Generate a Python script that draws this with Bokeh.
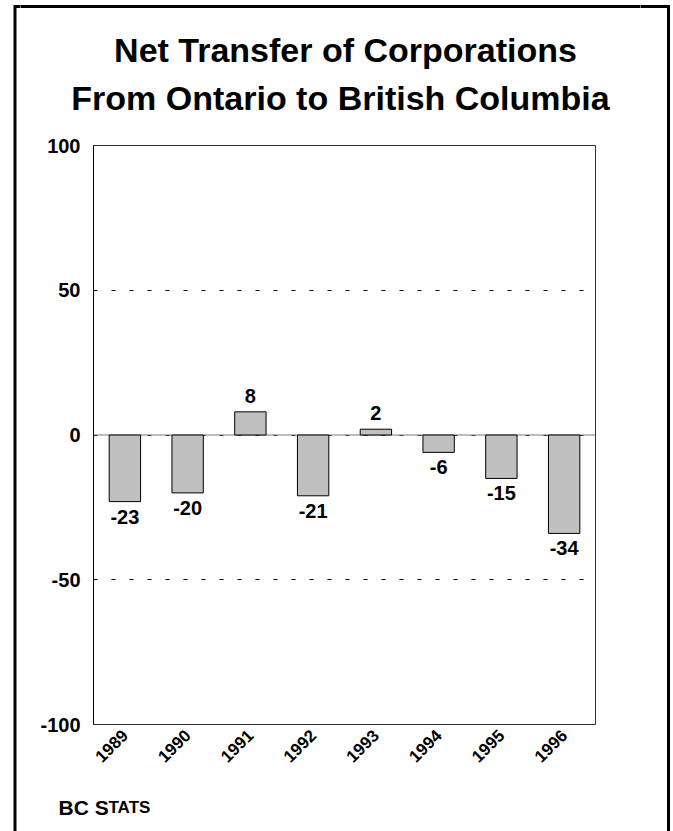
from math import pi

from bokeh.core.properties import value
from bokeh.embed import file_html
from bokeh.layouts import column, row
from bokeh.models import ColumnDataSource, FixedTicker, LabelSet, Range1d, Span
from bokeh.plotting import figure
from bokeh.resources import INLINE

# Net transfer of corporations, Ontario -> British Columbia
years = ["1989", "1990", "1991", "1992", "1993", "1994", "1995", "1996"]
net_transfer = [-23, -20, 8, -21, 2, -6, -15, -34]
y_ticks = [-100, -50, 0, 50, 100]
title_lines = ["Net Transfer of Corporations", "From Ontario to British Columbia"]
credit_parts = ["BC S", "TATS"]

FONT = "Liberation Sans"
W, H = 673, 831

# page pieces (canvas pixels)
TOP_H = 120          # title band
BOT_Y = 790          # start of credit band
LEFT_W = 20          # left border strip
RIGHT_X = 640        # start of right border strip
FL, FR, FT, FB = 93, 595, 145, 724   # plot frame
BX0, BX1, BY0 = 14.5, 668, 6        # outer box lines
BOX_W = 3


def blank(w, h, xr, yr):
    f = figure(width=w, height=h, x_range=Range1d(*xr), y_range=Range1d(*yr),
               output_backend="svg", toolbar_location=None, min_border=0,
               x_axis_type=None, y_axis_type=None, outline_line_color=None,
               background_fill_color="white", border_fill_color="white",
               frame_align=False)
    f.grid.visible = False
    return f


box = dict(line_color="black", line_width=BOX_W, line_join="miter")

# ---- full-height side strips carrying the outer box
left = blank(LEFT_W, H, (0, LEFT_W), (H, 0))
left.line([BX0, BX0, LEFT_W + 5], [H + 10, BY0, BY0], **box)
right = blank(W - RIGHT_X, H, (RIGHT_X, W), (H, 0))
right.line([RIGHT_X - 5, BX1, BX1], [BY0, BY0, H + 10], **box)

mid_w = RIGHT_X - LEFT_W

# ---- title band
top = blank(mid_w, TOP_H, (LEFT_W, RIGHT_X), (TOP_H, 0))
top.line([LEFT_W - 5, RIGHT_X + 5], [BY0, BY0], **box)
top.text(x=[345, 340], y=[49, 97], text=title_lines,
         text_font=value(FONT), text_font_style="bold", text_font_size="34px",
         text_align="center", text_baseline="alphabetic", text_color="black")

# ---- main chart
mid_h = BOT_Y - TOP_H
X0, X1 = 0, len(years)
p = figure(width=mid_w, height=mid_h, output_backend="svg",
           toolbar_location=None,
           x_range=Range1d(X0, X1), y_range=Range1d(-100, 100),
           min_border_left=FL - LEFT_W, min_border_right=RIGHT_X - FR,
           min_border_top=FT - TOP_H, min_border_bottom=BOT_Y - FB,
           background_fill_color="white", border_fill_color="white",
           frame_align=False)
p.outline_line_color = "#303030"
p.outline_line_width = 1

centers = [i + 0.5 for i in range(len(years))]
src = ColumnDataSource(dict(x=centers, top=net_transfer, bottom=[0] * len(years)))

p.xgrid.visible = False
p.ygrid.ticker = FixedTicker(ticks=[-50, 0, 50, 100])
p.ygrid.grid_line_color = "black"
p.ygrid.grid_line_dash = "4 14"
p.ygrid.grid_line_width = 1

p.add_layout(Span(location=0, dimension="width", line_color="#7a7a7a",
                  line_width=1, level="underlay"))

p.vbar(x="x", top="top", bottom="bottom", width=0.5, source=src,
       fill_color="#c0c0c0", line_color="black", line_width=1)

# value labels above positive bars, below negative ones
pos = ColumnDataSource(dict(
    x=[c for c, v in zip(centers, net_transfer) if v >= 0],
    y=[v for v in net_transfer if v >= 0],
    t=[str(v) for v in net_transfer if v >= 0]))
neg = ColumnDataSource(dict(
    x=[c for c, v in zip(centers, net_transfer) if v < 0],
    y=[v for v in net_transfer if v < 0],
    t=[str(v) for v in net_transfer if v < 0]))
common = dict(text_font=value(FONT), text_font_style="bold",
              text_font_size="20px", text_color="black", text_align="center")
p.add_layout(LabelSet(x="x", y="y", text="t", source=pos, y_offset=9,
                      text_baseline="bottom", **common))
p.add_layout(LabelSet(x="x", y="y", text="t", source=neg, y_offset=-8,
                      text_baseline="top", **common))

p.yaxis.ticker = FixedTicker(ticks=y_ticks)
p.yaxis.major_label_overrides = {t: str(t) for t in y_ticks}
p.yaxis.major_tick_line_color = None
p.yaxis.minor_tick_line_color = None
p.yaxis.major_tick_out = 0
p.yaxis.major_label_standoff = 13
p.yaxis.axis_line_color = "black"
p.yaxis.major_label_text_font = FONT
p.yaxis.major_label_text_font_style = "bold"
p.yaxis.major_label_text_font_size = "20px"
p.yaxis.major_label_text_color = "black"

p.xaxis.ticker = FixedTicker(ticks=centers)
p.xaxis.major_label_overrides = {c: y for c, y in zip(centers, years)}
p.xaxis.major_label_orientation = pi / 4
p.xaxis.major_tick_line_color = None
p.xaxis.minor_tick_line_color = None
p.xaxis.major_tick_out = 0
p.xaxis.axis_line_color = None
p.xaxis.major_label_standoff = 8
p.xaxis.major_label_text_font = FONT
p.xaxis.major_label_text_font_style = "bold"
p.xaxis.major_label_text_font_size = "17px"
p.xaxis.major_label_text_color = "black"

# ---- credit band
bot = blank(mid_w, H - BOT_Y, (LEFT_W, RIGHT_X), (H, BOT_Y))
bot.text(x=[58], y=[807], text=[credit_parts[0]], text_font=value(FONT),
         text_font_style="bold", text_font_size="21px",
         text_baseline="alphabetic", text_color="black")
bot.text(x=[58 + 50], y=[807], text=[credit_parts[1]], text_font=value(FONT),
         text_font_style="bold", text_font_size="17px",
         text_baseline="alphabetic", text_color="black")

page = row(left, column(top, p, bot), right)
open("out.html", "w").write(file_html(page, INLINE))
